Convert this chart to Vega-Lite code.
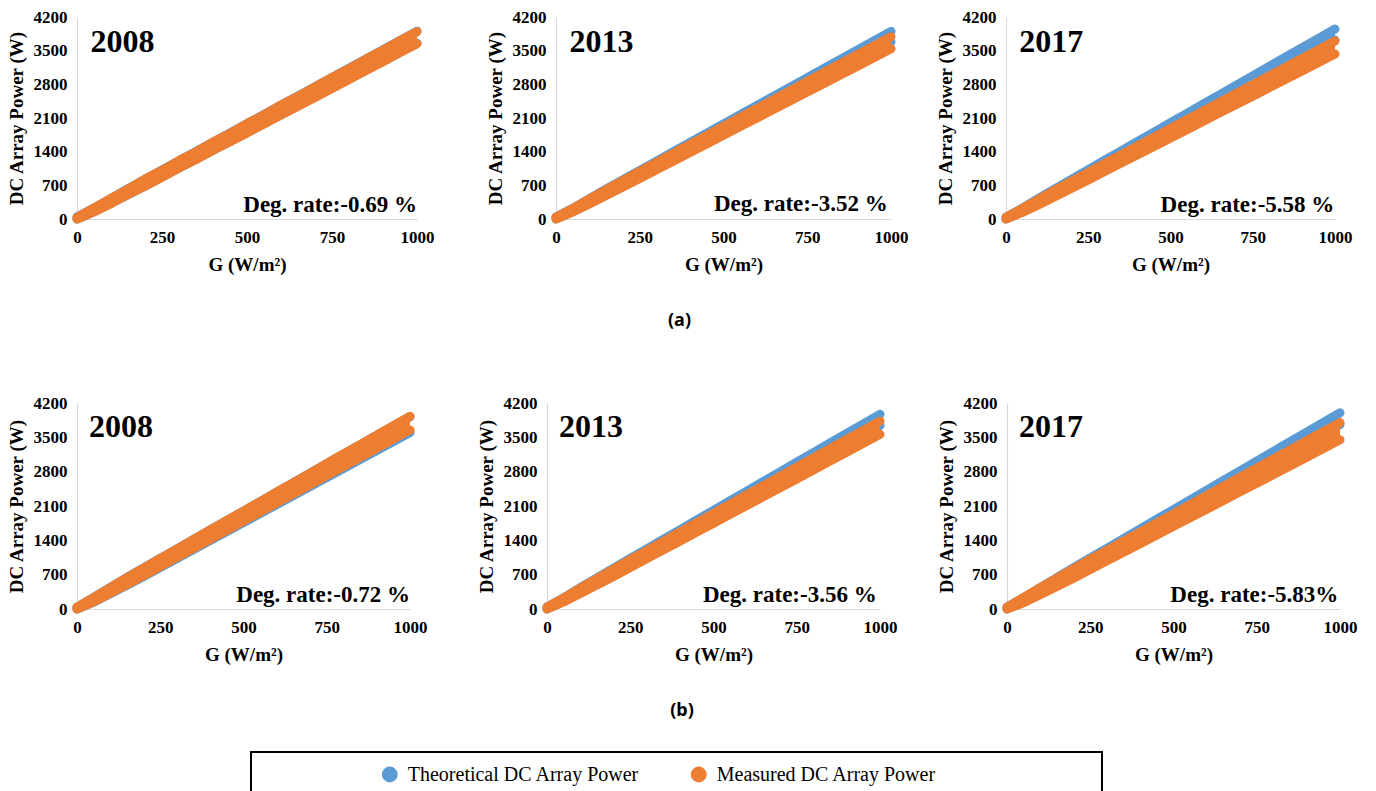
{
  "$schema": "https://vega.github.io/schema/vega-lite/v6.json",
  "padding": {"left": 7, "top": 8, "right": 5, "bottom": 0},
  "background": "white",
  "datasets": {
    "pts": [
      {"p":"a2008","g":0,"tl":0,"th":40,"ml":0,"mh":35,"year":"2008","deg":"Deg. rate:-0.69 %"},
      {"p":"a2008","g":50,"tl":151,"th":227,"ml":148,"mh":230},
      {"p":"a2008","g":100,"tl":326,"th":430,"ml":320,"mh":425},
      {"p":"a2008","g":150,"tl":505,"th":629,"ml":508,"mh":622},
      {"p":"a2008","g":200,"tl":687,"th":825,"ml":680,"mh":830},
      {"p":"a2008","g":250,"tl":872,"th":1018,"ml":866,"mh":1012},
      {"p":"a2008","g":300,"tl":1058,"th":1210,"ml":1060,"mh":1215},
      {"p":"a2008","g":350,"tl":1243,"th":1403,"ml":1236,"mh":1395},
      {"p":"a2008","g":400,"tl":1428,"th":1596,"ml":1430,"mh":1600},
      {"p":"a2008","g":450,"tl":1613,"th":1789,"ml":1605,"mh":1780},
      {"p":"a2008","g":500,"tl":1799,"th":1981,"ml":1790,"mh":1985},
      {"p":"a2008","g":550,"tl":1984,"th":2174,"ml":1975,"mh":2165},
      {"p":"a2008","g":600,"tl":2169,"th":2367,"ml":2160,"mh":2370},
      {"p":"a2008","g":650,"tl":2355,"th":2559,"ml":2345,"mh":2550},
      {"p":"a2008","g":700,"tl":2540,"th":2752,"ml":2528,"mh":2748},
      {"p":"a2008","g":750,"tl":2725,"th":2945,"ml":2715,"mh":2942},
      {"p":"a2008","g":800,"tl":2910,"th":3138,"ml":2900,"mh":3125},
      {"p":"a2008","g":850,"tl":3096,"th":3330,"ml":3085,"mh":3325},
      {"p":"a2008","g":900,"tl":3282,"th":3522,"ml":3270,"mh":3510},
      {"p":"a2008","g":950,"tl":3469,"th":3713,"ml":3460,"mh":3706},
      {"p":"a2008","g":1000,"tl":3655,"th":3905,"ml":3645,"mh":3895},

      {"p":"a2013","g":0,"tl":0,"th":40,"ml":0,"mh":35,"year":"2013","deg":"Deg. rate:-3.52 %"},
      {"p":"a2013","g":50,"tl":156,"th":223,"ml":145,"mh":221},
      {"p":"a2013","g":100,"tl":333,"th":425,"ml":315,"mh":418},
      {"p":"a2013","g":150,"tl":514,"th":624,"ml":488,"mh":612},
      {"p":"a2013","g":200,"tl":697,"th":819,"ml":664,"mh":802},
      {"p":"a2013","g":250,"tl":884,"th":1012,"ml":843,"mh":989},
      {"p":"a2013","g":300,"tl":1070,"th":1204,"ml":1023,"mh":1175},
      {"p":"a2013","g":350,"tl":1257,"th":1397,"ml":1203,"mh":1363},
      {"p":"a2013","g":400,"tl":1442,"th":1590,"ml":1382,"mh":1550},
      {"p":"a2013","g":450,"tl":1629,"th":1783,"ml":1561,"mh":1737},
      {"p":"a2013","g":500,"tl":1815,"th":1975,"ml":1741,"mh":1923},
      {"p":"a2013","g":550,"tl":2001,"th":2169,"ml":1921,"mh":2111},
      {"p":"a2013","g":600,"tl":2187,"th":2361,"ml":2100,"mh":2298},
      {"p":"a2013","g":650,"tl":2374,"th":2554,"ml":2280,"mh":2484},
      {"p":"a2013","g":700,"tl":2560,"th":2746,"ml":2459,"mh":2671},
      {"p":"a2013","g":750,"tl":2746,"th":2940,"ml":2639,"mh":2859},
      {"p":"a2013","g":800,"tl":2932,"th":3132,"ml":2818,"mh":3046},
      {"p":"a2013","g":850,"tl":3119,"th":3325,"ml":2998,"mh":3232},
      {"p":"a2013","g":900,"tl":3305,"th":3517,"ml":3178,"mh":3418},
      {"p":"a2013","g":950,"tl":3494,"th":3707,"ml":3359,"mh":3603},
      {"p":"a2013","g":1000,"tl":3680,"th":3900,"ml":3540,"mh":3790},

      {"p":"a2017","g":0,"tl":0,"th":40,"ml":0,"mh":35,"year":"2017","deg":"Deg. rate:-5.58 %"},
      {"p":"a2017","g":50,"tl":157,"th":227,"ml":137,"mh":219},
      {"p":"a2017","g":100,"tl":336,"th":432,"ml":300,"mh":413},
      {"p":"a2017","g":150,"tl":518,"th":632,"ml":468,"mh":602},
      {"p":"a2017","g":200,"tl":704,"th":830,"ml":638,"mh":788},
      {"p":"a2017","g":250,"tl":892,"th":1026,"ml":812,"mh":970},
      {"p":"a2017","g":300,"tl":1081,"th":1221,"ml":987,"mh":1152},
      {"p":"a2017","g":350,"tl":1268,"th":1416,"ml":1162,"mh":1334},
      {"p":"a2017","g":400,"tl":1457,"th":1611,"ml":1335,"mh":1517},
      {"p":"a2017","g":450,"tl":1645,"th":1807,"ml":1509,"mh":1699},
      {"p":"a2017","g":500,"tl":1834,"th":2002,"ml":1684,"mh":1881},
      {"p":"a2017","g":550,"tl":2022,"th":2196,"ml":1858,"mh":2064},
      {"p":"a2017","g":600,"tl":2210,"th":2392,"ml":2032,"mh":2246},
      {"p":"a2017","g":650,"tl":2399,"th":2587,"ml":2207,"mh":2427},
      {"p":"a2017","g":700,"tl":2587,"th":2782,"ml":2381,"mh":2610},
      {"p":"a2017","g":750,"tl":2775,"th":2977,"ml":2555,"mh":2793},
      {"p":"a2017","g":800,"tl":2963,"th":3173,"ml":2729,"mh":2975},
      {"p":"a2017","g":850,"tl":3152,"th":3368,"ml":2904,"mh":3156},
      {"p":"a2017","g":900,"tl":3342,"th":3562,"ml":3078,"mh":3339},
      {"p":"a2017","g":950,"tl":3531,"th":3755,"ml":3255,"mh":3519},
      {"p":"a2017","g":1000,"tl":3720,"th":3950,"ml":3430,"mh":3700},

      {"p":"b2008","g":0,"tl":0,"th":40,"ml":0,"mh":40,"year":"2008","deg":"Deg. rate:-0.72 %"},
      {"p":"b2008","g":50,"tl":139,"th":237,"ml":146,"mh":233},
      {"p":"b2008","g":100,"tl":309,"th":443,"ml":321,"mh":437},
      {"p":"b2008","g":150,"tl":485,"th":643,"ml":500,"mh":638},
      {"p":"b2008","g":200,"tl":664,"th":840,"ml":681,"mh":835},
      {"p":"b2008","g":250,"tl":847,"th":1033,"ml":866,"mh":1030},
      {"p":"b2008","g":300,"tl":1031,"th":1225,"ml":1052,"mh":1222},
      {"p":"b2008","g":350,"tl":1214,"th":1418,"ml":1237,"mh":1417},
      {"p":"b2008","g":400,"tl":1396,"th":1612,"ml":1422,"mh":1610},
      {"p":"b2008","g":450,"tl":1579,"th":1805,"ml":1607,"mh":1805},
      {"p":"b2008","g":500,"tl":1764,"th":1996,"ml":1793,"mh":1997},
      {"p":"b2008","g":550,"tl":1946,"th":2190,"ml":1978,"mh":2191},
      {"p":"b2008","g":600,"tl":2129,"th":2383,"ml":2163,"mh":2385},
      {"p":"b2008","g":650,"tl":2313,"th":2575,"ml":2350,"mh":2578},
      {"p":"b2008","g":700,"tl":2496,"th":2768,"ml":2534,"mh":2772},
      {"p":"b2008","g":750,"tl":2679,"th":2961,"ml":2720,"mh":2966},
      {"p":"b2008","g":800,"tl":2862,"th":3154,"ml":2904,"mh":3160},
      {"p":"b2008","g":850,"tl":3046,"th":3346,"ml":3090,"mh":3353},
      {"p":"b2008","g":900,"tl":3230,"th":3538,"ml":3277,"mh":3545},
      {"p":"b2008","g":950,"tl":3416,"th":3728,"ml":3463,"mh":3738},
      {"p":"b2008","g":1000,"tl":3600,"th":3920,"ml":3650,"mh":3930},

      {"p":"b2013","g":0,"tl":0,"th":40,"ml":0,"mh":35,"year":"2013","deg":"Deg. rate:-3.56 %"},
      {"p":"b2013","g":50,"tl":158,"th":228,"ml":144,"mh":226},
      {"p":"b2013","g":100,"tl":338,"th":434,"ml":314,"mh":426},
      {"p":"b2013","g":150,"tl":521,"th":635,"ml":487,"mh":621},
      {"p":"b2013","g":200,"tl":708,"th":834,"ml":664,"mh":814},
      {"p":"b2013","g":250,"tl":897,"th":1031,"ml":845,"mh":1003},
      {"p":"b2013","g":300,"tl":1087,"th":1227,"ml":1027,"mh":1191},
      {"p":"b2013","g":350,"tl":1275,"th":1423,"ml":1207,"mh":1379},
      {"p":"b2013","g":400,"tl":1465,"th":1619,"ml":1387,"mh":1569},
      {"p":"b2013","g":450,"tl":1654,"th":1816,"ml":1568,"mh":1758},
      {"p":"b2013","g":500,"tl":1844,"th":2012,"ml":1750,"mh":1946},
      {"p":"b2013","g":550,"tl":2033,"th":2207,"ml":1929,"mh":2135},
      {"p":"b2013","g":600,"tl":2222,"th":2404,"ml":2110,"mh":2324},
      {"p":"b2013","g":650,"tl":2412,"th":2600,"ml":2292,"mh":2512},
      {"p":"b2013","g":700,"tl":2601,"th":2796,"ml":2473,"mh":2701},
      {"p":"b2013","g":750,"tl":2790,"th":2992,"ml":2652,"mh":2890},
      {"p":"b2013","g":800,"tl":2979,"th":3189,"ml":2833,"mh":3079},
      {"p":"b2013","g":850,"tl":3169,"th":3385,"ml":3015,"mh":3267},
      {"p":"b2013","g":900,"tl":3360,"th":3580,"ml":3196,"mh":3456},
      {"p":"b2013","g":950,"tl":3550,"th":3774,"ml":3378,"mh":3642},
      {"p":"b2013","g":1000,"tl":3740,"th":3970,"ml":3560,"mh":3830},

      {"p":"b2017","g":0,"tl":0,"th":40,"ml":0,"mh":40,"year":"2017","deg":"Deg. rate:-5.83%"},
      {"p":"b2017","g":50,"tl":158,"th":230,"ml":128,"mh":234},
      {"p":"b2017","g":100,"tl":338,"th":438,"ml":290,"mh":435},
      {"p":"b2017","g":150,"tl":522,"th":642,"ml":457,"mh":631},
      {"p":"b2017","g":200,"tl":710,"th":842,"ml":628,"mh":822},
      {"p":"b2017","g":250,"tl":900,"th":1040,"ml":804,"mh":1008},
      {"p":"b2017","g":300,"tl":1091,"th":1237,"ml":982,"mh":1194},
      {"p":"b2017","g":350,"tl":1281,"th":1435,"ml":1157,"mh":1381},
      {"p":"b2017","g":400,"tl":1471,"th":1633,"ml":1332,"mh":1568},
      {"p":"b2017","g":450,"tl":1662,"th":1830,"ml":1508,"mh":1754},
      {"p":"b2017","g":500,"tl":1853,"th":2027,"ml":1686,"mh":1940},
      {"p":"b2017","g":550,"tl":2043,"th":2225,"ml":1861,"mh":2127},
      {"p":"b2017","g":600,"tl":2233,"th":2423,"ml":2036,"mh":2314},
      {"p":"b2017","g":650,"tl":2424,"th":2620,"ml":2213,"mh":2499},
      {"p":"b2017","g":700,"tl":2614,"th":2818,"ml":2390,"mh":2686},
      {"p":"b2017","g":750,"tl":2804,"th":3016,"ml":2565,"mh":2873},
      {"p":"b2017","g":800,"tl":2995,"th":3213,"ml":2740,"mh":3060},
      {"p":"b2017","g":850,"tl":3186,"th":3410,"ml":2917,"mh":3245},
      {"p":"b2017","g":900,"tl":3377,"th":3607,"ml":3095,"mh":3430},
      {"p":"b2017","g":950,"tl":3569,"th":3803,"ml":3273,"mh":3615},
      {"p":"b2017","g":1000,"tl":3760,"th":4000,"ml":3450,"mh":3800}
    ],
    "legend": [
      {"s":"Theoretical DC Array Power"},
      {"s":"Measured DC Array Power"}
    ]
  },
  "vconcat": [
    {
      "title": {"text": "(a)", "orient": "bottom", "anchor": "middle", "font": "Noto Sans", "fontSize": 18, "fontWeight": "bold", "color": "#000", "offset": 38},
      "spacing": 52,
      "hconcat": [
        {
          "width": 340, "height": 202,
          "data": {"name": "pts"},
          "transform": [{"filter": "datum.p === 'a2008'"}],
          "encoding": {"x": {"field": "g", "type": "quantitative", "title": "G (W/m²)", "scale": {"domain": [0, 1000]}, "axis": {"values": [0, 250, 500, 750, 1000], "format": "d", "tickCount": 10}}},
          "layer": [
            {"mark": {"type": "area", "color": "#5B9BD5", "opacity": 1}, "encoding": {"y": {"field": "tl", "type": "quantitative", "title": "DC Array Power (W)", "scale": {"domain": [0, 4200], "nice": false}, "axis": {"values": [0, 700, 1400, 2100, 2800, 3500, 4200], "format": "d", "tickCount": 10}}, "y2": {"field": "th"}}},
            {"transform": [{"fold": ["tl", "th"], "as": ["edge", "w"]}], "mark": {"type": "line", "color": "#5B9BD5", "strokeWidth": 9, "strokeCap": "round", "strokeJoin": "round"}, "encoding": {"y": {"field": "w", "type": "quantitative", "title": "DC Array Power (W)", "axis": {"values": [0, 700, 1400, 2100, 2800, 3500, 4200], "format": "d", "tickCount": 10}}, "detail": {"field": "edge"}}},
            {"mark": {"type": "area", "color": "#ED7D31", "opacity": 1}, "encoding": {"y": {"field": "ml", "type": "quantitative", "title": "DC Array Power (W)", "axis": {"values": [0, 700, 1400, 2100, 2800, 3500, 4200], "format": "d", "tickCount": 10}}, "y2": {"field": "mh"}}},
            {"transform": [{"fold": ["ml", "mh"], "as": ["edge", "w"]}], "mark": {"type": "line", "color": "#ED7D31", "strokeWidth": 9, "strokeCap": "round", "strokeJoin": "round"}, "encoding": {"y": {"field": "w", "type": "quantitative", "title": "DC Array Power (W)", "axis": {"values": [0, 700, 1400, 2100, 2800, 3500, 4200], "format": "d", "tickCount": 10}}, "detail": {"field": "edge"}}},
            {"transform": [{"filter": "isValid(datum.year)"}], "mark": {"type": "text", "font": "Liberation Serif", "fontWeight": "bold", "fontSize": 32, "align": "left", "baseline": "alphabetic", "color": "#000"}, "encoding": {"x": {"datum": 40}, "y": {"datum": 3480}, "text": {"field": "year"}}},
            {"transform": [{"filter": "isValid(datum.deg)"}], "mark": {"type": "text", "font": "Liberation Serif", "fontWeight": "bold", "fontSize": 23, "align": "right", "baseline": "alphabetic", "color": "#000"}, "encoding": {"x": {"datum": 1000}, "y": {"datum": 150}, "text": {"field": "deg"}}}
          ]
        },
        {
          "spacing": 28,
          "hconcat": [
            {
              "width": 335, "height": 202,
              "data": {"name": "pts"},
              "transform": [{"filter": "datum.p === 'a2013'"}],
              "encoding": {"x": {"field": "g", "type": "quantitative", "title": "G (W/m²)", "scale": {"domain": [0, 1000]}, "axis": {"values": [0, 250, 500, 750, 1000], "format": "d", "tickCount": 10}}},
              "layer": [
                {"mark": {"type": "area", "color": "#5B9BD5", "opacity": 1}, "encoding": {"y": {"field": "tl", "type": "quantitative", "title": "DC Array Power (W)", "scale": {"domain": [0, 4200], "nice": false}, "axis": {"values": [0, 700, 1400, 2100, 2800, 3500, 4200], "format": "d", "tickCount": 10}}, "y2": {"field": "th"}}},
                {"transform": [{"fold": ["tl", "th"], "as": ["edge", "w"]}], "mark": {"type": "line", "color": "#5B9BD5", "strokeWidth": 9, "strokeCap": "round", "strokeJoin": "round"}, "encoding": {"y": {"field": "w", "type": "quantitative", "title": "DC Array Power (W)", "axis": {"values": [0, 700, 1400, 2100, 2800, 3500, 4200], "format": "d", "tickCount": 10}}, "detail": {"field": "edge"}}},
                {"mark": {"type": "area", "color": "#ED7D31", "opacity": 1}, "encoding": {"y": {"field": "ml", "type": "quantitative", "title": "DC Array Power (W)", "axis": {"values": [0, 700, 1400, 2100, 2800, 3500, 4200], "format": "d", "tickCount": 10}}, "y2": {"field": "mh"}}},
                {"transform": [{"fold": ["ml", "mh"], "as": ["edge", "w"]}], "mark": {"type": "line", "color": "#ED7D31", "strokeWidth": 9, "strokeCap": "round", "strokeJoin": "round"}, "encoding": {"y": {"field": "w", "type": "quantitative", "title": "DC Array Power (W)", "axis": {"values": [0, 700, 1400, 2100, 2800, 3500, 4200], "format": "d", "tickCount": 10}}, "detail": {"field": "edge"}}},
                {"transform": [{"filter": "isValid(datum.year)"}], "mark": {"type": "text", "font": "Liberation Serif", "fontWeight": "bold", "fontSize": 32, "align": "left", "baseline": "alphabetic", "color": "#000"}, "encoding": {"x": {"datum": 40}, "y": {"datum": 3480}, "text": {"field": "year"}}},
                {"transform": [{"filter": "isValid(datum.deg)"}], "mark": {"type": "text", "font": "Liberation Serif", "fontWeight": "bold", "fontSize": 23, "align": "right", "baseline": "alphabetic", "color": "#000"}, "encoding": {"x": {"datum": 990}, "y": {"datum": 170}, "text": {"field": "deg"}}}
              ]
            },
            {
              "width": 329, "height": 202,
              "data": {"name": "pts"},
              "transform": [{"filter": "datum.p === 'a2017'"}],
              "encoding": {"x": {"field": "g", "type": "quantitative", "title": "G (W/m²)", "scale": {"domain": [0, 1000]}, "axis": {"values": [0, 250, 500, 750, 1000], "format": "d", "tickCount": 10}}},
              "layer": [
                {"mark": {"type": "area", "color": "#5B9BD5", "opacity": 1}, "encoding": {"y": {"field": "tl", "type": "quantitative", "title": "DC Array Power (W)", "scale": {"domain": [0, 4200], "nice": false}, "axis": {"values": [0, 700, 1400, 2100, 2800, 3500, 4200], "format": "d", "tickCount": 10}}, "y2": {"field": "th"}}},
                {"transform": [{"fold": ["tl", "th"], "as": ["edge", "w"]}], "mark": {"type": "line", "color": "#5B9BD5", "strokeWidth": 9, "strokeCap": "round", "strokeJoin": "round"}, "encoding": {"y": {"field": "w", "type": "quantitative", "title": "DC Array Power (W)", "axis": {"values": [0, 700, 1400, 2100, 2800, 3500, 4200], "format": "d", "tickCount": 10}}, "detail": {"field": "edge"}}},
                {"mark": {"type": "area", "color": "#ED7D31", "opacity": 1}, "encoding": {"y": {"field": "ml", "type": "quantitative", "title": "DC Array Power (W)", "axis": {"values": [0, 700, 1400, 2100, 2800, 3500, 4200], "format": "d", "tickCount": 10}}, "y2": {"field": "mh"}}},
                {"transform": [{"fold": ["ml", "mh"], "as": ["edge", "w"]}], "mark": {"type": "line", "color": "#ED7D31", "strokeWidth": 9, "strokeCap": "round", "strokeJoin": "round"}, "encoding": {"y": {"field": "w", "type": "quantitative", "title": "DC Array Power (W)", "axis": {"values": [0, 700, 1400, 2100, 2800, 3500, 4200], "format": "d", "tickCount": 10}}, "detail": {"field": "edge"}}},
                {"transform": [{"filter": "isValid(datum.year)"}], "mark": {"type": "text", "font": "Liberation Serif", "fontWeight": "bold", "fontSize": 32, "align": "left", "baseline": "alphabetic", "color": "#000"}, "encoding": {"x": {"datum": 40}, "y": {"datum": 3480}, "text": {"field": "year"}}},
                {"transform": [{"filter": "isValid(datum.deg)"}], "mark": {"type": "text", "font": "Liberation Serif", "fontWeight": "bold", "fontSize": 23, "align": "right", "baseline": "alphabetic", "color": "#000"}, "encoding": {"x": {"datum": 998}, "y": {"datum": 150}, "text": {"field": "deg"}}}
              ]
            }
          ]
        }
      ]
    },
    {
      "spacing": 31,
      "vconcat": [
        {
          "title": {"text": "(b)", "orient": "bottom", "anchor": "middle", "font": "Noto Sans", "fontSize": 18, "fontWeight": "bold", "color": "#000", "offset": 38},
          "spacing": 50,
          "hconcat": [
            {
              "width": 333, "height": 206,
              "data": {"name": "pts"},
              "transform": [{"filter": "datum.p === 'b2008'"}],
              "encoding": {"x": {"field": "g", "type": "quantitative", "title": "G (W/m²)", "scale": {"domain": [0, 1000]}, "axis": {"values": [0, 250, 500, 750, 1000], "format": "d", "tickCount": 10}}},
              "layer": [
                {"mark": {"type": "area", "color": "#5B9BD5", "opacity": 1}, "encoding": {"y": {"field": "tl", "type": "quantitative", "title": "DC Array Power (W)", "scale": {"domain": [0, 4200], "nice": false}, "axis": {"values": [0, 700, 1400, 2100, 2800, 3500, 4200], "format": "d", "tickCount": 10}}, "y2": {"field": "th"}}},
                {"transform": [{"fold": ["tl", "th"], "as": ["edge", "w"]}], "mark": {"type": "line", "color": "#5B9BD5", "strokeWidth": 9, "strokeCap": "round", "strokeJoin": "round"}, "encoding": {"y": {"field": "w", "type": "quantitative", "title": "DC Array Power (W)", "axis": {"values": [0, 700, 1400, 2100, 2800, 3500, 4200], "format": "d", "tickCount": 10}}, "detail": {"field": "edge"}}},
                {"mark": {"type": "area", "color": "#ED7D31", "opacity": 1}, "encoding": {"y": {"field": "ml", "type": "quantitative", "title": "DC Array Power (W)", "axis": {"values": [0, 700, 1400, 2100, 2800, 3500, 4200], "format": "d", "tickCount": 10}}, "y2": {"field": "mh"}}},
                {"transform": [{"fold": ["ml", "mh"], "as": ["edge", "w"]}], "mark": {"type": "line", "color": "#ED7D31", "strokeWidth": 9, "strokeCap": "round", "strokeJoin": "round"}, "encoding": {"y": {"field": "w", "type": "quantitative", "title": "DC Array Power (W)", "axis": {"values": [0, 700, 1400, 2100, 2800, 3500, 4200], "format": "d", "tickCount": 10}}, "detail": {"field": "edge"}}},
                {"transform": [{"filter": "isValid(datum.year)"}], "mark": {"type": "text", "font": "Liberation Serif", "fontWeight": "bold", "fontSize": 32, "align": "left", "baseline": "alphabetic", "color": "#000"}, "encoding": {"x": {"datum": 36}, "y": {"datum": 3510}, "text": {"field": "year"}}},
                {"transform": [{"filter": "isValid(datum.deg)"}], "mark": {"type": "text", "font": "Liberation Serif", "fontWeight": "bold", "fontSize": 23, "align": "right", "baseline": "alphabetic", "color": "#000"}, "encoding": {"x": {"datum": 1000}, "y": {"datum": 150}, "text": {"field": "deg"}}}
              ]
            },
            {
              "spacing": 40,
              "hconcat": [
                {
                  "width": 333, "height": 206,
                  "data": {"name": "pts"},
                  "transform": [{"filter": "datum.p === 'b2013'"}],
                  "encoding": {"x": {"field": "g", "type": "quantitative", "title": "G (W/m²)", "scale": {"domain": [0, 1000]}, "axis": {"values": [0, 250, 500, 750, 1000], "format": "d", "tickCount": 10}}},
                  "layer": [
                    {"mark": {"type": "area", "color": "#5B9BD5", "opacity": 1}, "encoding": {"y": {"field": "tl", "type": "quantitative", "title": "DC Array Power (W)", "scale": {"domain": [0, 4200], "nice": false}, "axis": {"values": [0, 700, 1400, 2100, 2800, 3500, 4200], "format": "d", "tickCount": 10}}, "y2": {"field": "th"}}},
                    {"transform": [{"fold": ["tl", "th"], "as": ["edge", "w"]}], "mark": {"type": "line", "color": "#5B9BD5", "strokeWidth": 9, "strokeCap": "round", "strokeJoin": "round"}, "encoding": {"y": {"field": "w", "type": "quantitative", "title": "DC Array Power (W)", "axis": {"values": [0, 700, 1400, 2100, 2800, 3500, 4200], "format": "d", "tickCount": 10}}, "detail": {"field": "edge"}}},
                    {"mark": {"type": "area", "color": "#ED7D31", "opacity": 1}, "encoding": {"y": {"field": "ml", "type": "quantitative", "title": "DC Array Power (W)", "axis": {"values": [0, 700, 1400, 2100, 2800, 3500, 4200], "format": "d", "tickCount": 10}}, "y2": {"field": "mh"}}},
                    {"transform": [{"fold": ["ml", "mh"], "as": ["edge", "w"]}], "mark": {"type": "line", "color": "#ED7D31", "strokeWidth": 9, "strokeCap": "round", "strokeJoin": "round"}, "encoding": {"y": {"field": "w", "type": "quantitative", "title": "DC Array Power (W)", "axis": {"values": [0, 700, 1400, 2100, 2800, 3500, 4200], "format": "d", "tickCount": 10}}, "detail": {"field": "edge"}}},
                    {"transform": [{"filter": "isValid(datum.year)"}], "mark": {"type": "text", "font": "Liberation Serif", "fontWeight": "bold", "fontSize": 32, "align": "left", "baseline": "alphabetic", "color": "#000"}, "encoding": {"x": {"datum": 36}, "y": {"datum": 3510}, "text": {"field": "year"}}},
                    {"transform": [{"filter": "isValid(datum.deg)"}], "mark": {"type": "text", "font": "Liberation Serif", "fontWeight": "bold", "fontSize": 23, "align": "right", "baseline": "alphabetic", "color": "#000"}, "encoding": {"x": {"datum": 990}, "y": {"datum": 150}, "text": {"field": "deg"}}}
                  ]
                },
                {
                  "width": 333, "height": 206,
                  "data": {"name": "pts"},
                  "transform": [{"filter": "datum.p === 'b2017'"}],
                  "encoding": {"x": {"field": "g", "type": "quantitative", "title": "G (W/m²)", "scale": {"domain": [0, 1000]}, "axis": {"values": [0, 250, 500, 750, 1000], "format": "d", "tickCount": 10}}},
                  "layer": [
                    {"mark": {"type": "area", "color": "#5B9BD5", "opacity": 1}, "encoding": {"y": {"field": "tl", "type": "quantitative", "title": "DC Array Power (W)", "scale": {"domain": [0, 4200], "nice": false}, "axis": {"values": [0, 700, 1400, 2100, 2800, 3500, 4200], "format": "d", "tickCount": 10}}, "y2": {"field": "th"}}},
                    {"transform": [{"fold": ["tl", "th"], "as": ["edge", "w"]}], "mark": {"type": "line", "color": "#5B9BD5", "strokeWidth": 9, "strokeCap": "round", "strokeJoin": "round"}, "encoding": {"y": {"field": "w", "type": "quantitative", "title": "DC Array Power (W)", "axis": {"values": [0, 700, 1400, 2100, 2800, 3500, 4200], "format": "d", "tickCount": 10}}, "detail": {"field": "edge"}}},
                    {"mark": {"type": "area", "color": "#ED7D31", "opacity": 1}, "encoding": {"y": {"field": "ml", "type": "quantitative", "title": "DC Array Power (W)", "axis": {"values": [0, 700, 1400, 2100, 2800, 3500, 4200], "format": "d", "tickCount": 10}}, "y2": {"field": "mh"}}},
                    {"transform": [{"fold": ["ml", "mh"], "as": ["edge", "w"]}], "mark": {"type": "line", "color": "#ED7D31", "strokeWidth": 9, "strokeCap": "round", "strokeJoin": "round"}, "encoding": {"y": {"field": "w", "type": "quantitative", "title": "DC Array Power (W)", "axis": {"values": [0, 700, 1400, 2100, 2800, 3500, 4200], "format": "d", "tickCount": 10}}, "detail": {"field": "edge"}}},
                    {"transform": [{"filter": "isValid(datum.year)"}], "mark": {"type": "text", "font": "Liberation Serif", "fontWeight": "bold", "fontSize": 32, "align": "left", "baseline": "alphabetic", "color": "#000"}, "encoding": {"x": {"datum": 36}, "y": {"datum": 3510}, "text": {"field": "year"}}},
                    {"transform": [{"filter": "isValid(datum.deg)"}], "mark": {"type": "text", "font": "Liberation Serif", "fontWeight": "bold", "fontSize": 23, "align": "right", "baseline": "alphabetic", "color": "#000"}, "encoding": {"x": {"datum": 995}, "y": {"datum": 150}, "text": {"field": "deg"}}}
                  ]
                }
              ]
            }
          ]
        },
        {
          "spacing": 0,
          "hconcat": [
            {
              "width": 173, "height": 45,
              "data": {"values": []},
              "mark": {"type": "point", "opacity": 0},
              "encoding": {}
            },
            {
              "width": 851, "height": 45,
              "view": {"stroke": "#000", "strokeWidth": 2},
              "data": {"name": "legend"},
              "encoding": {"x": {"field": "s", "type": "nominal", "sort": null, "scale": {"type": "point", "padding": 0.877, "align": 0.256, "domain": ["Theoretical DC Array Power", "Measured DC Array Power"]}, "axis": null}},
              "layer": [
                {"mark": {"type": "circle", "size": 250, "opacity": 1}, "encoding": {"color": {"field": "s", "type": "nominal", "scale": {"domain": ["Theoretical DC Array Power", "Measured DC Array Power"], "range": ["#5B9BD5", "#ED7D31"]}, "legend": null}}},
                {"mark": {"type": "text", "align": "left", "baseline": "middle", "dx": 18, "font": "Liberation Serif", "fontSize": 20, "color": "#000"}, "encoding": {"text": {"field": "s"}}}
              ]
            }
          ]
        }
      ]
    }
  ],
  "spacing": 64,
  "config": {
    "view": {"stroke": null},
    "axis": {"domainColor": "#d9d9d9", "domainWidth": 1.2, "ticks": false, "grid": false, "labelFlush": false, "labelOverlap": false, "labelBound": false, "labelFont": "Liberation Serif", "labelFontWeight": "bold", "labelFontSize": 17, "labelColor": "#000", "titleFont": "Liberation Serif", "titleFontWeight": "bold", "titleFontSize": 19, "titleColor": "#000"},
    "axisY": {"labelPadding": 10, "titlePadding": 7, "labelAlign": "right", "labelBaseline": "middle"},
    "axisX": {"labelPadding": 10, "titlePadding": 10}
  }
}
